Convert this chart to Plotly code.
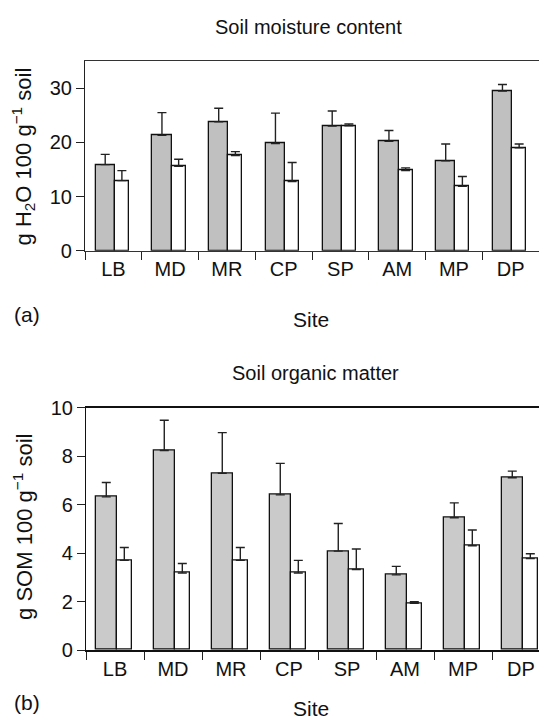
import plotly.graph_objects as go

sites = ["LB", "MD", "MR", "CP", "SP", "AM", "MP", "DP"]

# Soil moisture content (g H2O 100 g-1 soil)
moist_gray = [15.9, 21.3, 23.8, 19.8, 23.0, 20.2, 16.6, 29.5]
moist_gray_err = [1.9, 4.2, 2.5, 5.6, 2.8, 2.0, 3.1, 1.2]
moist_white = [12.95, 15.6, 17.6, 12.8, 23.05, 14.8, 11.9, 19.0]
moist_white_err = [1.85, 1.3, 0.7, 3.5, 0.35, 0.5, 1.8, 0.7]

# Soil organic matter (g SOM 100 g-1 soil)
som_gray = [6.32, 8.23, 7.29, 6.40, 4.08, 3.10, 5.46, 7.11]
som_gray_err = [0.59, 1.25, 1.68, 1.30, 1.14, 0.35, 0.61, 0.27]
som_white = [3.70, 3.18, 3.70, 3.18, 3.32, 1.93, 4.30, 3.77]
som_white_err = [0.53, 0.39, 0.53, 0.52, 0.85, 0.06, 0.65, 0.20]

FONT = "Liberation Sans, Arial, sans-serif"
W, H = 539, 727

fig = go.Figure()

def add_pair(gray, gerr, white, werr, xa, ya, goff, gw, woff, ww, gcol):
    fig.add_trace(go.Bar(
        x=sites, y=gray, offset=goff, width=gw, xaxis=xa, yaxis=ya,
        marker=dict(color=gcol, line=dict(color="#111", width=1.3)),
        error_y=dict(type="data", symmetric=False, array=gerr,
                     arrayminus=[0] * len(gerr), color="#222",
                     thickness=1.4, width=4.5),
        showlegend=False))
    fig.add_trace(go.Bar(
        x=sites, y=white, offset=woff, width=ww, xaxis=xa, yaxis=ya,
        marker=dict(color="white", line=dict(color="#111", width=1.3)),
        error_y=dict(type="data", symmetric=False, array=werr,
                     arrayminus=[0] * len(werr), color="#222",
                     thickness=1.4, width=4.5),
        showlegend=False))

add_pair(moist_gray, moist_gray_err, moist_white, moist_white_err,
         "x", "y", -0.313, 0.338, 0.025, 0.25, "#c0c0c0")
add_pair(som_gray, som_gray_err, som_white, som_white_err,
         "x2", "y2", -0.334, 0.367, 0.033, 0.255, "#cacaca")

ml = 85
pw = W - ml

def yd(top_px, bot_px):
    return [1 - bot_px / H, 1 - top_px / H]

tickfont = dict(family=FONT, size=20, color="#111")

fig.update_layout(
    width=W, height=H,
    margin=dict(l=ml, r=0, t=0, b=0),
    paper_bgcolor="white", plot_bgcolor="white",
    barmode="overlay", bargap=0,
    font=dict(family=FONT, color="#111"),
    xaxis=dict(domain=[0, 1], anchor="y", type="category",
               range=[-0.5, 7.5], tickson="boundaries",
               ticks="outside", ticklen=8, tickwidth=1.2, tickcolor="#222",
               showline=True, linecolor="#333", linewidth=1.3, mirror=True,
               showgrid=False, tickfont=tickfont),
    yaxis=dict(domain=yd(51.7, 247.3), anchor="x", range=[0, 35],
               tickvals=[0, 10, 20, 30], ticks="outside", ticklen=8,
               tickwidth=1.2, tickcolor="#222",
               showline=True, linecolor="#222", linewidth=1.2,
               showgrid=False, zeroline=False, tickfont=tickfont),
    xaxis2=dict(domain=[1 / pw, 1], anchor="y2", type="category",
                range=[-0.5, -0.5 + (W - ml - 1) / 58.0],
                tickson="boundaries",
                ticks="outside", ticklen=8, tickwidth=1.2, tickcolor="#222",
                showline=True, linecolor="#111", linewidth=1.8, mirror=True,
                showgrid=False, tickfont=tickfont),
    yaxis2=dict(domain=yd(409, 659), anchor="x2", range=[0, 10],
                tickvals=[0, 2, 4, 6, 8, 10], ticks="outside", ticklen=8,
                tickwidth=1.2, tickcolor="#222",
                showline=True, linecolor="#111", linewidth=1.2,
                showgrid=False, zeroline=False, tickfont=tickfont),
)

def ann_px(text, xpx, ypx, size=18, angle=0, xanchor="center"):
    fig.add_annotation(text=text, x=(xpx - ml) / pw, y=1 - ypx / H,
                       xref="paper", yref="paper", showarrow=False,
                       textangle=angle, xanchor=xanchor, yanchor="middle",
                       font=dict(family=FONT, size=size, color="#111"))

ann_px("Soil moisture content", 308, 16, size=20)
ann_px("Site", 311, 318, size=21)
ann_px("(a)", 12, 313, size=21, xanchor="left")
ann_px("g H<sub>2</sub>O 100 g<sup>\u22121</sup> soil", 23, 150, size=22, angle=-90)

ann_px("Soil organic matter", 315, 373, size=20)
ann_px("Site", 311, 719, size=21)
ann_px("(b)", 12, 713, size=21, xanchor="left")
ann_px("g SOM 100 g<sup>\u22121</sup> soil", 23, 532, size=22, angle=-90)

fig.write_html("out.html")
